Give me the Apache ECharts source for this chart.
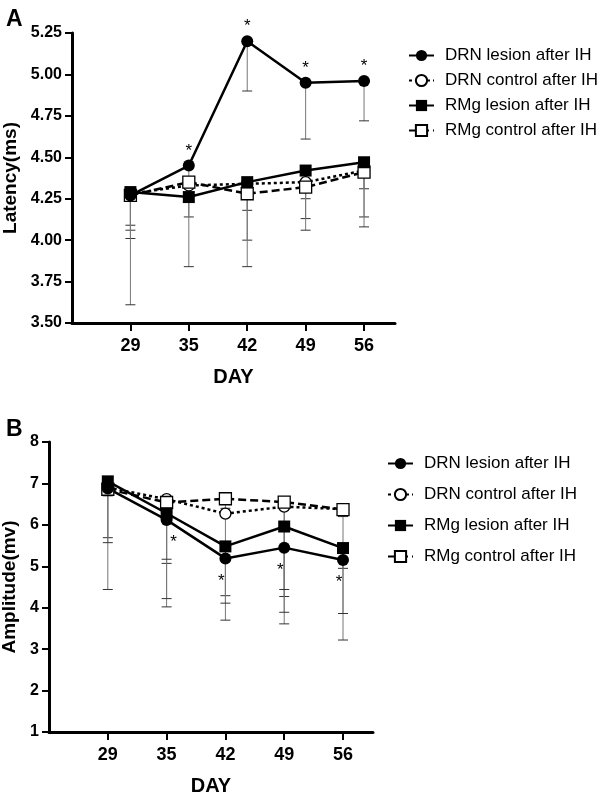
<!DOCTYPE html>
<html>
<head>
<meta charset="utf-8">
<script src="https://cdn.jsdelivr.net/npm/echarts@6/dist/echarts.min.js"></script>
<style>
  html, body { margin: 0; padding: 0; background: #fff; }
  #chart { width: 600px; height: 797px; }
</style>
</head>
<body>
<div id="chart"></div>
<script>
// days on the x axis (drawn as evenly spaced categories)
const days = ['29', '35', '42', '49', '56']
const groups = ['DRN lesion after IH', 'DRN control after IH', 'RMg lesion after IH', 'RMg control after IH']

// panel A : latency (ms), means and lower error bar ends
const latDrnLesion = [4.27, 4.45, 5.20, 4.95, 4.96]
const latDrnControl = [4.28, 4.33, 4.34, 4.35, 4.42]
const latRmgLesion = [4.29, 4.26, 4.35, 4.42, 4.47]
const latRmgControl = [4.27, 4.35, 4.28, 4.32, 4.41]
const latDrnLesionLow = [4.09, 4.14, 4.90, 4.61, 4.72]
const latDrnControlLow = [4.06, 4.25, 4.18, 4.25, 4.31]
const latRmgLesionLow = [4.01, 3.84, 4.00, 4.13, 4.14]
const latRmgControlLow = [3.61, 4.28, 3.84, 4.06, 4.08]
const latSig = [false, true, true, true, true]
const latTicks = [3.50, 3.75, 4.00, 4.25, 4.50, 4.75, 5.00, 5.25]

// panel B : amplitude (mv)
const ampDrnLesion = [6.88, 6.12, 5.19, 5.45, 5.15]
const ampDrnControl = [6.90, 6.62, 6.27, 6.44, 6.38]
const ampRmgLesion = [7.05, 6.28, 5.48, 5.96, 5.44]
const ampRmgControl = [6.86, 6.54, 6.63, 6.55, 6.37]
const ampDrnLesionLow = [4.44, 4.02, 3.70, 3.61, 3.22]
const ampDrnControlLow = [5.69, 5.07, 4.29, 4.27, 4.95]
const ampRmgLesionLow = [5.57, 4.22, 4.11, 3.89, 3.86]
const ampRmgControlLow = [6.70, 5.17, 6.40, 4.44, 6.20]
const ampSig = [false, true, true, true, true]
const ampTicks = [1, 2, 3, 4, 5, 6, 7, 8]

const idx = days.map((d, i) => i)

const styles = [
    {symbol: 'circle', symbolSize: 12, fill: '#000', line: 'solid'},
    {symbol: 'circle', symbolSize: 11, fill: '#fff', line: [3, 3]},
    {symbol: 'rect', symbolSize: 12, fill: '#000', line: 'solid'},
    {symbol: 'rect', symbolSize: 12, fill: '#fff', line: [8, 4]}
]

function renderErr(params, api) {
    const x = api.value(0)
    const top = api.coord([x, api.value(1)])
    const bot = api.coord([x, api.value(2)])
    return {
        type: 'group',
        children: [
            {type: 'line', shape: {x1: top[0], y1: top[1], x2: bot[0], y2: bot[1]}, style: {stroke: '#777', lineWidth: 1}},
            {type: 'line', shape: {x1: bot[0] - 5, y1: bot[1], x2: bot[0] + 5, y2: bot[1]}, style: {stroke: '#333', lineWidth: 1}}
        ]
    }
}

function errSeries(name, k, means, lows) {
    return {
        name: name,
        type: 'custom',
        xAxisIndex: k,
        yAxisIndex: k,
        renderItem: renderErr,
        z: 1,
        data: means.map((m, i) => [i, m, lows[i]])
    }
}

function lineSeries(g, k, values, sig, panelB) {
    const s = styles[g]
    return {
        name: groups[g],
        type: 'line',
        xAxisIndex: k,
        yAxisIndex: k,
        symbol: s.symbol,
        symbolSize: s.symbolSize,
        showAllSymbol: true,
        z: 3,
        itemStyle: {color: s.fill, borderColor: '#000', borderWidth: s.fill === '#fff' ? 1.3 : 0},
        lineStyle: {color: '#000', width: 2.5, type: s.line},
        data: values.map((v, i) => {
            const item = {value: [i, v]}
            if (sig && sig[i]) {
                item.label = panelB
                    ? {show: true, formatter: '*', position: 'bottom', distance: 8, offset: [i === 1 ? 7 : -4, 0], color: '#000', fontSize: 17, fontFamily: 'Liberation Sans'}
                    : {show: true, formatter: '*', position: 'top', distance: 0, color: '#000', fontSize: 17, fontFamily: 'Liberation Sans'}
            }
            return item
        })
    }
}

function xAxisFor(k, max) {
    return {
        type: 'value',
        gridIndex: k,
        min: -1,
        max: max,
        name: 'DAY',
        nameLocation: 'middle',
        nameGap: 44,
        nameTextStyle: {fontFamily: 'Liberation Sans', fontWeight: 'bold', fontSize: 20, color: '#000'},
        axisLine: {onZero: false, lineStyle: {color: '#000', width: 3}},
        axisTick: {customValues: idx, length: 8, lineStyle: {color: '#000', width: 2}},
        axisLabel: {
            customValues: idx,
            formatter: v => days[v],
            margin: 14,
            fontFamily: 'Liberation Sans', fontWeight: 'bold', fontSize: 18, color: '#000'
        },
        splitLine: {show: false}
    }
}

function yAxisFor(k, ticks, step, name, gap, digits) {
    return {
        type: 'value',
        gridIndex: k,
        min: ticks[0],
        max: ticks[ticks.length - 1],
        interval: step,
        name: name,
        nameLocation: 'middle',
        nameGap: gap,
        nameTextStyle: {fontFamily: 'Liberation Sans', fontWeight: 'bold', fontSize: 19, color: '#000'},
        axisLine: {show: true, onZero: false, lineStyle: {color: '#000', width: 3}},
        axisTick: {show: true, length: 7, lineStyle: {color: '#000', width: 2}},
        axisLabel: {
            formatter: v => v.toFixed(digits),
            margin: 10,
            fontFamily: 'Liberation Sans', fontWeight: 'bold', fontSize: 16, color: '#000'
        },
        splitLine: {show: false}
    }
}

function legendFor(left, top, gap) {
    return {
        orient: 'vertical',
        left: left,
        top: top,
        itemWidth: 25,
        itemHeight: 14,
        itemGap: gap,
        data: groups,
        selectedMode: false,
        textStyle: {fontFamily: 'Liberation Sans', fontSize: 17, color: '#000', padding: [0, 0, 0, 6]}
    }
}

const chart = echarts.init(document.getElementById('chart'), null, {renderer: 'canvas'})
chart.setOption({
    animation: false,
    backgroundColor: '#fff',
    title: [
        {text: 'A', left: 1, top: 3, textStyle: {fontFamily: 'Liberation Sans', fontWeight: 'bold', fontSize: 23, color: '#000'}},
        {text: 'B', left: 1, top: 413, textStyle: {fontFamily: 'Liberation Sans', fontWeight: 'bold', fontSize: 23, color: '#000'}}
    ],
    legend: [legendFor(403, 42, 8), legendFor(382, 450, 14)],
    grid: [
        {left: 72, top: 33, width: 323, height: 290, outerBoundsMode: 'none'},
        {left: 49, top: 442, width: 324, height: 290, outerBoundsMode: 'none'}
    ],
    xAxis: [xAxisFor(0, 4.53), xAxisFor(1, 4.51)],
    yAxis: [
        yAxisFor(0, latTicks, 0.25, 'Latency(ms)', 52, 2),
        yAxisFor(1, ampTicks, 1, 'Amplitude(mv)', 28, 0)
    ],
    series: [
        errSeries('errA1', 0, latDrnLesion, latDrnLesionLow),
        errSeries('errA2', 0, latDrnControl, latDrnControlLow),
        errSeries('errA3', 0, latRmgLesion, latRmgLesionLow),
        errSeries('errA4', 0, latRmgControl, latRmgControlLow),
        lineSeries(1, 0, latDrnControl),
        lineSeries(3, 0, latRmgControl),
        lineSeries(2, 0, latRmgLesion),
        lineSeries(0, 0, latDrnLesion, latSig, false),
        errSeries('errB1', 1, ampDrnLesion, ampDrnLesionLow),
        errSeries('errB2', 1, ampDrnControl, ampDrnControlLow),
        errSeries('errB3', 1, ampRmgLesion, ampRmgLesionLow),
        errSeries('errB4', 1, ampRmgControl, ampRmgControlLow),
        lineSeries(1, 1, ampDrnControl),
        lineSeries(3, 1, ampRmgControl),
        lineSeries(2, 1, ampRmgLesion),
        lineSeries(0, 1, ampDrnLesion, ampSig, true)
    ]
})
</script>
</body>
</html>
